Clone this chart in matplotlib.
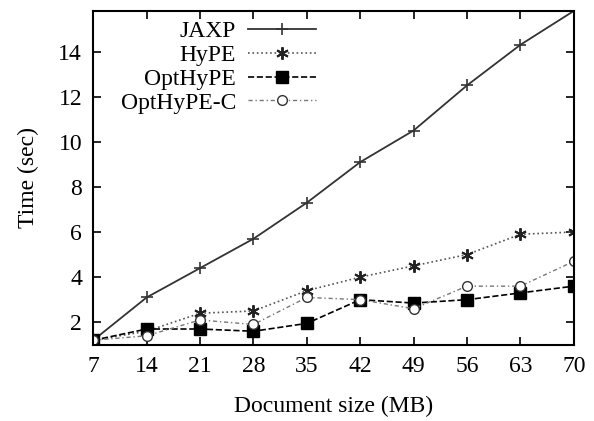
import matplotlib.pyplot as plt

plt.rcParams['font.family'] = ['Liberation Serif', 'DejaVu Serif']

ukuran = [7, 14, 21, 28, 35, 42, 49, 56, 63, 70]
jaxp = [1.2, 3.1, 4.4, 5.7, 7.3, 9.1, 10.5, 12.5, 14.3, 15.8]
hype = [1.2, 1.6, 2.4, 2.5, 3.4, 4.0, 4.5, 5.0, 5.9, 6.0]
opthype = [1.2, 1.7, 1.7, 1.6, 1.95, 3.0, 2.85, 3.0, 3.3, 3.6]
opthype_c = [1.2, 1.4, 2.1, 1.9, 3.1, 3.0, 2.6, 3.6, 3.6, 4.7]
yticks = [2, 4, 6, 8, 10, 12, 14]

fig = plt.figure(figsize=(5.94, 4.21), dpi=100)
ax = fig.add_axes([0.157, 0.181, 0.809, 0.793])

ax.plot(ukuran, jaxp, '-', color='#333333', lw=1.3, marker='+', ms=8, mew=1.2, label='JAXP')
ax.plot(ukuran, hype, ':', color='#555555', lw=1.2, marker=(6, 2, 0), ms=9, mew=1.4,
        mec='#222222', label='HyPE')
ax.plot(ukuran, opthype, '--', color='black', lw=1.2, marker='s', ms=9, mfc='black', label='OptHyPE')
ax.plot(ukuran, opthype_c, '-.', color='#777777', lw=1.0, marker='o', ms=7, mfc='white',
        mec='#333333', dashes=(3, 2, 1, 2), label='OptHyPE-C')

ax.set_xlim(7, 70)
ax.set_ylim(1, 15.8)
ax.set_xticks(ukuran)
ax.set_yticks(yticks)
ax.tick_params(direction='in', top=True, right=True, labelsize=17, length=6, width=1.2, pad=8)
for s in ax.spines.values():
    s.set_linewidth(1.5)

ax.set_xlabel('Document size (MB)', fontsize=17, labelpad=14)
ax.set_ylabel('Time (sec)', fontsize=17, labelpad=14)

leg = ax.legend(loc='upper left', bbox_to_anchor=(0.013, 1.035), markerfirst=False, frameon=False,
                fontsize=17, handlelength=2.9, labelspacing=0.1, handletextpad=0.5)
for t in leg.get_texts():
    t.set_ha('right')
leg._legend_box.align = 'right'

fig.savefig('out.png', dpi=100)
